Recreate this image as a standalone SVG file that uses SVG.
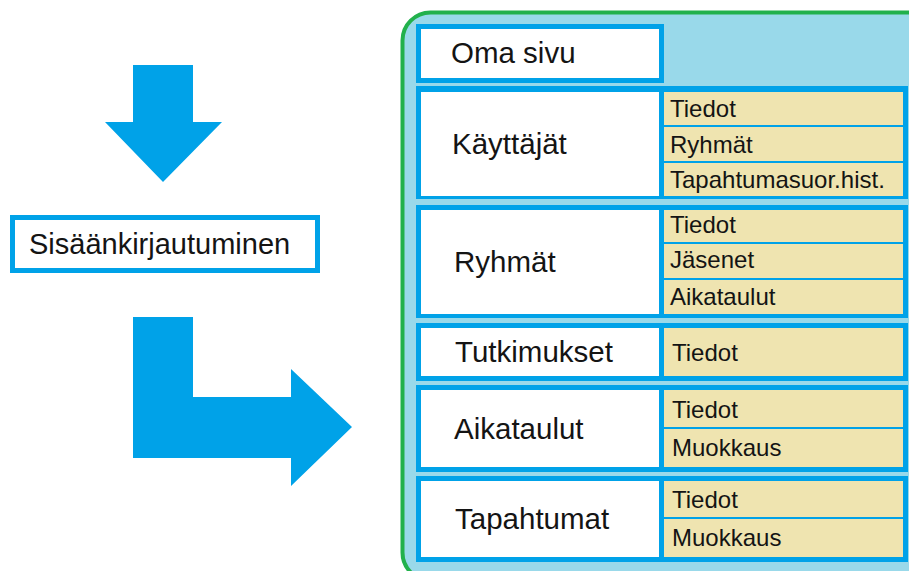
<svg xmlns="http://www.w3.org/2000/svg" width="909" height="571" viewBox="0 0 909 571">
<style>
text{font-family:"Liberation Sans",Arial,sans-serif;fill:#141414}
.main{font-size:29.5px}
.sub{font-size:24px}
.blue{fill:#00a2e8}
.white{fill:#ffffff}
.tan{fill:#efe4b0}
.arrow{fill:#00a2e8}
</style>
<rect width="909" height="571" fill="#ffffff"/>
<g id="connectors">
<polygon class="arrow" points="133,65 193,65 193,122 222,122 163,182 105,122 133,122"/>
<polygon class="arrow" points="133,317 193,317 193,397 291,397 291,369 352,427 291,486 291,458 133,458"/>
</g>
<g id="login">
<rect x="12.5" y="217.5" width="305" height="53" fill="#ffffff" stroke="#00a2e8" stroke-width="5"/>
<text x="29" y="254" font-size="29">Sisäänkirjautuminen</text>
</g>
<g id="panel">
<rect x="402.5" y="12.5" width="540" height="568" rx="28" fill="#99d9ea" stroke="#22b14c" stroke-width="4"/>
</g>
<g id="oma-sivu">
<rect class="blue" x="416" y="24" width="248" height="59"/>
<rect class="white" x="421" y="29" width="238" height="49"/>
<text class="main" x="451" y="63">Oma sivu</text>
</g>
<g id="kayttajat">
<rect class="blue" x="416" y="86" width="492" height="113"/>
<rect class="white" x="421" y="92" width="238" height="104"/>
<rect class="tan" x="664" y="92" width="239" height="33"/>
<rect class="tan" x="664" y="127" width="239" height="34"/>
<rect class="tan" x="664" y="163" width="239" height="33"/>
<text class="main" x="452" y="154">Käyttäjät</text>
<text class="sub" x="670" y="117">Tiedot</text>
<text class="sub" x="670" y="153">Ryhmät</text>
<text class="sub" x="670" y="188">Tapahtumasuor.hist.</text>
</g>
<g id="ryhmat">
<rect class="blue" x="416" y="205" width="492" height="113"/>
<rect class="white" x="421" y="210" width="238" height="104"/>
<rect class="tan" x="664" y="210" width="239" height="32"/>
<rect class="tan" x="664" y="244" width="239" height="34"/>
<rect class="tan" x="664" y="280" width="239" height="34"/>
<text class="main" x="454" y="272">Ryhmät</text>
<text class="sub" x="670" y="233">Tiedot</text>
<text class="sub" x="670" y="268">Jäsenet</text>
<text class="sub" x="670" y="305">Aikataulut</text>
</g>
<g id="tutkimukset">
<rect class="blue" x="416" y="323" width="492" height="58"/>
<rect class="white" x="421" y="328" width="238" height="48"/>
<rect class="tan" x="664" y="328" width="239" height="48"/>
<text class="main" x="455" y="362">Tutkimukset</text>
<text class="sub" x="672" y="361">Tiedot</text>
</g>
<g id="aikataulut">
<rect class="blue" x="416" y="385" width="492" height="87"/>
<rect class="white" x="421" y="390" width="238" height="77"/>
<rect class="tan" x="664" y="390" width="239" height="37"/>
<rect class="tan" x="664" y="429" width="239" height="38"/>
<text class="main" x="454" y="439">Aikataulut</text>
<text class="sub" x="672" y="418">Tiedot</text>
<text class="sub" x="672" y="456">Muokkaus</text>
</g>
<g id="tapahtumat">
<rect class="blue" x="416" y="476" width="492" height="86"/>
<rect class="white" x="421" y="481" width="238" height="76"/>
<rect class="tan" x="664" y="481" width="239" height="36"/>
<rect class="tan" x="664" y="519" width="239" height="38"/>
<text class="main" x="455" y="529">Tapahtumat</text>
<text class="sub" x="672" y="508">Tiedot</text>
<text class="sub" x="672" y="546">Muokkaus</text>
</g>
</svg>
